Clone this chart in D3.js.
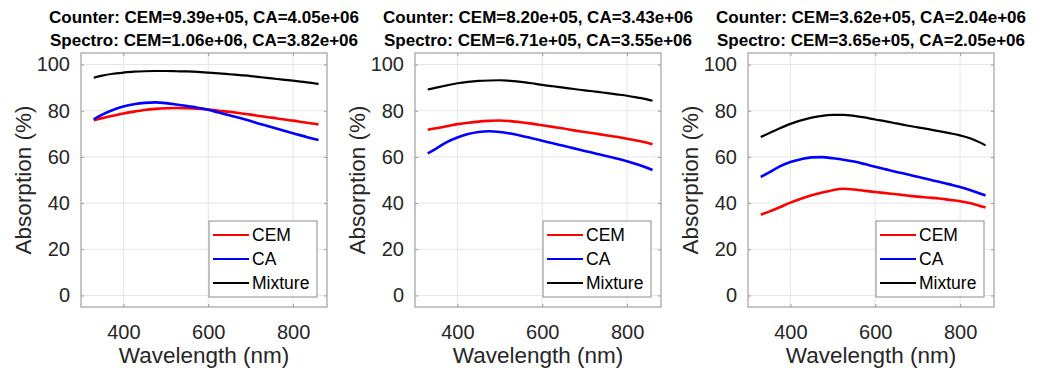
<!DOCTYPE html>
<html>
<head>
<meta charset="utf-8">
<script src="https://cdn.jsdelivr.net/npm/d3@7"></script>
<style>
  body { margin: 0; background: #fff; }
  text { font-family: "Liberation Sans", Arial, sans-serif; }
</style>
</head>
<body>
<script>
// wavelength samples (nm), shared by every series
var wl = [330, 350, 375, 400, 425, 450, 475, 500, 525, 550, 575, 600, 625, 650, 675, 700, 725, 750, 775, 800, 825, 845, 860];

var cem1 = [75.9, 76.8, 77.8, 78.8, 79.6, 80.3, 80.8, 81.1, 81.2, 81.1, 80.9, 80.5, 80.0, 79.5, 78.9, 78.3, 77.6, 77.0, 76.3, 75.7, 75.0, 74.5, 74.1];
var ca1  = [76.3, 78.3, 80.3, 81.8, 82.8, 83.4, 83.6, 83.3, 82.7, 82.0, 81.3, 80.4, 79.2, 78.0, 76.8, 75.5, 74.1, 72.8, 71.5, 70.2, 69.0, 68.0, 67.3];
var mix1 = [94.3, 95.2, 96.0, 96.5, 96.9, 97.1, 97.2, 97.2, 97.1, 97.0, 96.8, 96.5, 96.2, 95.8, 95.4, 95.0, 94.5, 94.0, 93.5, 93.0, 92.5, 92.0, 91.6];

var cem2 = [71.8, 72.4, 73.3, 74.2, 74.8, 75.3, 75.6, 75.8, 75.5, 75.0, 74.4, 73.7, 73.0, 72.3, 71.5, 70.8, 70.1, 69.4, 68.7, 67.9, 67.0, 66.2, 65.5];
var ca2  = [61.5, 63.6, 66.4, 68.4, 69.9, 70.8, 71.1, 70.8, 70.1, 69.2, 68.1, 67.0, 65.9, 64.8, 63.7, 62.6, 61.5, 60.4, 59.3, 58.1, 56.7, 55.4, 54.3];
var mix2 = [89.2, 90.0, 91.0, 91.9, 92.5, 92.9, 93.1, 93.2, 92.9, 92.5, 91.9, 91.2, 90.6, 90.0, 89.4, 88.8, 88.3, 87.7, 87.1, 86.5, 85.7, 85.0, 84.3];

var cem3 = [35.0, 36.3, 38.2, 40.2, 41.9, 43.4, 44.6, 45.6, 46.2, 45.9, 45.3, 44.8, 44.3, 43.8, 43.3, 42.8, 42.4, 42.0, 41.4, 40.8, 39.9, 38.9, 38.1];
var ca3  = [51.3, 53.3, 55.9, 57.8, 59.0, 59.8, 59.9, 59.4, 58.8, 58.0, 56.9, 55.7, 54.6, 53.5, 52.5, 51.4, 50.3, 49.2, 48.1, 47.0, 45.6, 44.3, 43.3];
var mix3 = [68.6, 70.3, 72.4, 74.3, 75.8, 77.0, 77.8, 78.2, 78.2, 77.8, 77.1, 76.2, 75.4, 74.5, 73.6, 72.8, 72.0, 71.2, 70.3, 69.3, 68.0, 66.4, 65.0];

var titles1 = ["Counter: CEM=9.39e+05, CA=4.05e+06", "Counter: CEM=8.20e+05, CA=3.43e+06", "Counter: CEM=3.62e+05, CA=2.04e+06"];
var titles2 = ["Spectro: CEM=1.06e+06, CA=3.82e+06", "Spectro: CEM=6.71e+05, CA=3.55e+06", "Spectro: CEM=3.65e+05, CA=2.05e+06"];

var legendNames = ["CEM", "CA", "Mixture"];
var colors = ["#ff0000", "#0000ff", "#000000"];
var xTicks = [400, 600, 800];
var yTicks = [0, 20, 40, 60, 80, 100];

var panels = [[cem1, ca1, mix1], [cem2, ca2, mix2], [cem3, ca3, mix3]];
var lefts = [81, 415, 748];

var W = 1045, H = 371;
var pw = 246, boxTop = 53, boxBottom = 307;
var ph = boxBottom - boxTop;

var svg = d3.select("body").append("svg").attr("width", W).attr("height", H);

var x = d3.scaleLinear().domain([300, 880]).range([0, pw]);
var y = d3.scaleLinear().domain([-5, 105]).range([ph, 0]);

panels.forEach(function(series, p) {
  var g = svg.append("g").attr("transform", "translate(" + lefts[p] + "," + boxTop + ")");

  // grid
  g.selectAll(".gx").data(xTicks).enter().append("line")
    .attr("x1", function(d) { return x(d); }).attr("x2", function(d) { return x(d); })
    .attr("y1", 0).attr("y2", ph)
    .attr("stroke", "#e6e6e6").attr("stroke-width", 1);
  g.selectAll(".gy").data(yTicks).enter().append("line")
    .attr("y1", function(d) { return y(d); }).attr("y2", function(d) { return y(d); })
    .attr("x1", 0).attr("x2", pw)
    .attr("stroke", "#e6e6e6").attr("stroke-width", 1);

  // axes, ticks inward like matlab
  var ax = g.append("g").attr("transform", "translate(0," + ph + ")")
    .call(d3.axisBottom(x).tickValues(xTicks).tickSize(-3).tickPadding(18));
  var ax2 = g.append("g")
    .call(d3.axisTop(x).tickValues(xTicks).tickSize(-3).tickFormat(""));
  var ay = g.append("g")
    .call(d3.axisLeft(y).tickValues(yTicks).tickSize(-3).tickPadding(11));
  var ay2 = g.append("g").attr("transform", "translate(" + pw + ",0)")
    .call(d3.axisRight(y).tickValues(yTicks).tickSize(-3).tickFormat(""));
  [ax, ax2, ay, ay2].forEach(function(a) {
    a.select(".domain").remove();
    a.selectAll("line").attr("stroke", "#9a9a9a");
    a.selectAll("text").attr("fill", "#262626").style("font-size", "20px")
      .style("font-family", "'Liberation Sans', Arial, sans-serif");
  });

  // curves
  var line = d3.line()
    .x(function(d, i) { return x(wl[i]); })
    .y(function(d) { return y(d); })
    .curve(d3.curveMonotoneX);
  series.forEach(function(s, k) {
    g.append("path").datum(s)
      .attr("fill", "none")
      .attr("stroke", colors[k])
      .attr("stroke-width", k == 2 ? 2.2 : 2.6)
      .attr("d", line);
  });

  // box
  g.append("rect").attr("width", pw).attr("height", ph)
    .attr("fill", "none").attr("stroke", "#a8a8a8").attr("stroke-width", 1.3);

  // legend
  var lg = g.append("g").attr("transform", "translate(128," + (221 - boxTop) + ")");
  lg.append("rect").attr("width", 108).attr("height", 76)
    .attr("fill", "#fff").attr("stroke", "#8c8c8c").attr("stroke-width", 1);
  legendNames.forEach(function(n, k) {
    var yy = 14 + k * 24;
    lg.append("line").attr("x1", 4).attr("x2", 40).attr("y1", yy).attr("y2", yy)
      .attr("stroke", colors[k]).attr("stroke-width", 2);
    lg.append("text").attr("x", 43).attr("y", yy).attr("dy", "0.36em")
      .style("font-size", "17.5px").attr("fill", "#000").text(n);
  });

  // titles
  var cx = lefts[p] + pw / 2;
  svg.append("text").attr("x", cx).attr("y", 23).attr("text-anchor", "middle")
    .style("font-size", "17px").style("font-weight", "bold").attr("fill", "#000").text(titles1[p]);
  svg.append("text").attr("x", cx).attr("y", 45.5).attr("text-anchor", "middle")
    .style("font-size", "17px").style("font-weight", "bold").attr("fill", "#000").text(titles2[p]);

  // axis labels
  svg.append("text").attr("x", cx).attr("y", 363).attr("text-anchor", "middle")
    .style("font-size", "22.5px").attr("fill", "#262626").text("Wavelength (nm)");
  svg.append("text")
    .attr("transform", "translate(" + (lefts[p] - 50) + "," + (boxTop + ph / 2) + ") rotate(-90)")
    .attr("text-anchor", "middle")
    .style("font-size", "22.5px").attr("fill", "#262626").text("Absorption (%)");
});
</script>
</body>
</html>
